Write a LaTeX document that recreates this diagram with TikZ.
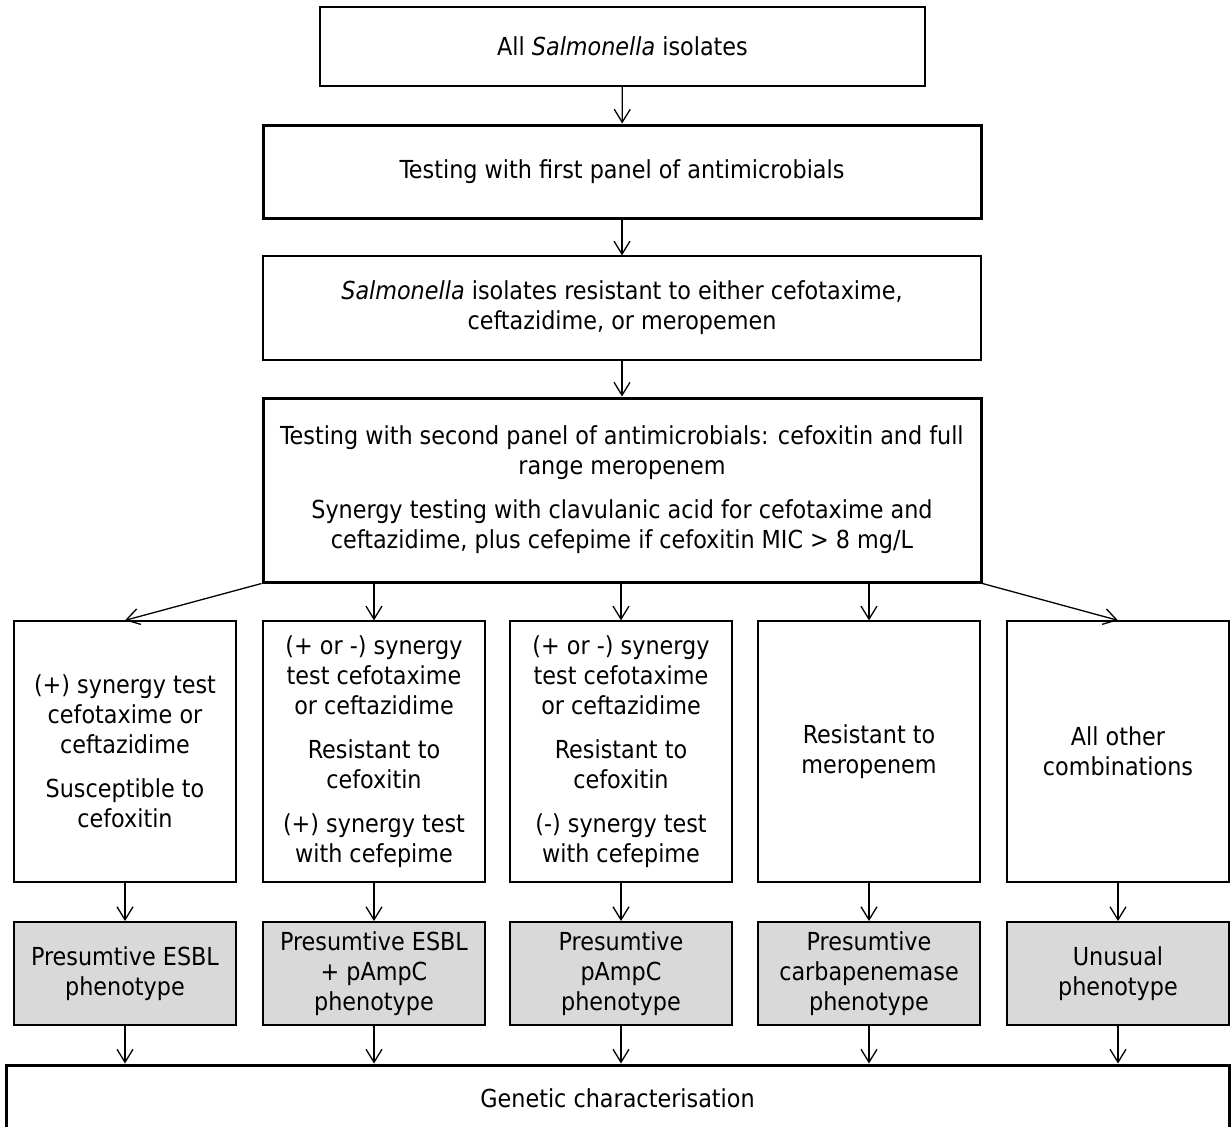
\documentclass[tikz,border=0pt]{standalone}
\usepackage{fontspec}
\setmainfont{DejaVu Sans Condensed}
\usetikzlibrary{arrows.meta}
\definecolor{phenogray}{RGB}{217,217,217}

\begin{document}
\begin{tikzpicture}[
    x = 0.5pt, y = -0.5pt,
    font = \fontsize{12.4}{15}\selectfont,
    every node/.style = {align = center, inner sep = 0pt},
    thinbox/.style = {draw, line width = 0.65pt},
    thickbox/.style = {draw, line width = 1.5pt},
    tierbox/.style = {thinbox, minimum width = 111pt, minimum height = 130.5pt},
    phenobox/.style = {draw, line width = 1pt, fill = phenogray,
                       minimum width = 111pt, minimum height = 51.5pt},
    flow/.style = {-{Straight Barb[length = 6.5pt, width = 8pt]}, line width = 0.65pt}
  ]
  \useasboundingbox (0,0) rectangle (1232,1126);
  % main chain
  \node[thinbox, minimum width = 302.5pt, minimum height = 39.5pt] (all) at (622.5, 46.5)
    {All \textit{Salmonella} isolates};
  \node[thickbox, minimum width = 359pt, minimum height = 46.5pt] (first) at (622, 171.5)
    {Testing with first panel of antimicrobials};
  \node[thinbox, minimum width = 359pt, minimum height = 52pt] (resist) at (622, 308)
    {\textit{Salmonella} isolates resistant to either cefotaxime,\\
     ceftazidime, or meropemen};
  \node[thickbox, minimum width = 359pt, minimum height = 92pt] (second) at (622, 490)
    {Testing with second panel of antimicrobials: cefoxitin and full\\
     range meropenem\\[7pt]
     Synergy testing with clavulanic acid for cefotaxime and\\
     ceftazidime, plus cefepime if cefoxitin MIC > 8 mg/L};
  % test outcomes
  \node[tierbox] (t1) at (125, 751.5)
    {(+) synergy test\\cefotaxime or\\ceftazidime\\[7pt]Susceptible to\\cefoxitin};
  \node[tierbox] (t2) at (374, 751.5)
    {(+ or -) synergy\\test cefotaxime\\or ceftazidime\\[7pt]Resistant to\\cefoxitin\\[7pt]
     (+) synergy test\\with cefepime};
  \node[tierbox] (t3) at (621, 751.5)
    {(+ or -) synergy\\test cefotaxime\\or ceftazidime\\[7pt]Resistant to\\cefoxitin\\[7pt]
     (-) synergy test\\with cefepime};
  \node[tierbox] (t4) at (869, 751.5) {Resistant to\\meropenem};
  \node[tierbox] (t5) at (1118, 751.5) {All other\\combinations};
  % phenotypes
  \node[phenobox] (p1) at (125, 973.5) {Presumtive ESBL\\phenotype};
  \node[phenobox] (p2) at (374, 973.5) {Presumtive ESBL\\+ pAmpC\\phenotype};
  \node[phenobox] (p3) at (621, 973.5) {Presumtive\\pAmpC\\phenotype};
  \node[phenobox] (p4) at (869, 973.5) {Presumtive\\carbapenemase\\phenotype};
  \node[phenobox] (p5) at (1118, 973.5) {Unusual\\phenotype};
  \node[thickbox, minimum width = 611.5pt, minimum height = 33pt] (gen) at (617.5, 1098)
    {Genetic characterisation};
  % arrows
  \draw[flow] (all) -- (first);
  \draw[flow] (first) -- (resist);
  \draw[flow] (resist) -- (second);
  \draw[flow] (second.south west) -- (t1.north);
  \draw[flow] (second.south east) -- (t5.north);
  \foreach \t in {t2, t3, t4}
    \draw[flow] (second.south -| \t.north) -- (\t.north);
  \foreach \i in {1, ..., 5} {
    \draw[flow] (t\i) -- (p\i);
    \draw[flow] (p\i.south) -- (p\i.south |- gen.north);
  }
\end{tikzpicture}
\end{document}
